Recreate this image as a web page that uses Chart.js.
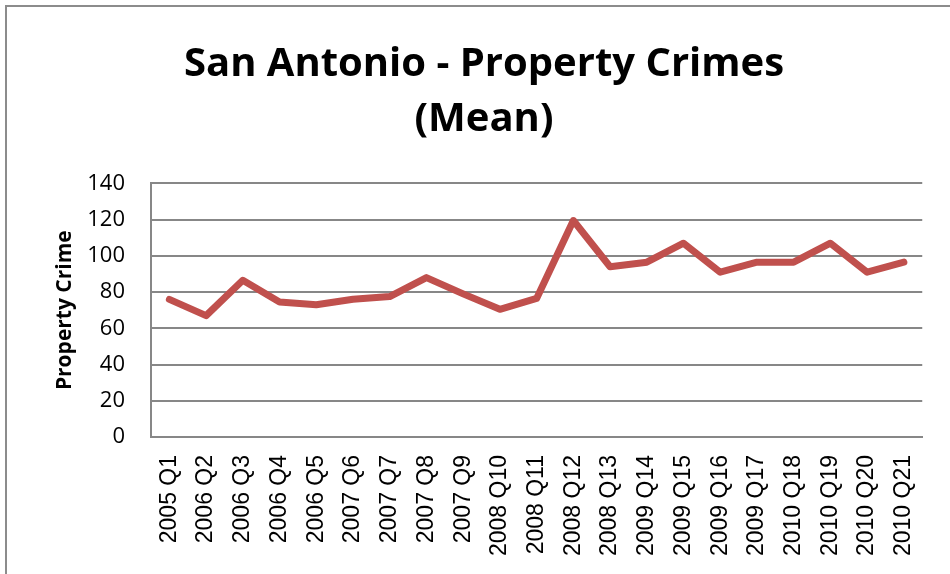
<!DOCTYPE html>
<html>
<head>
<meta charset="utf-8">
<script src="https://cdn.jsdelivr.net/npm/chart.js@4.4.0/dist/chart.umd.min.js"></script>
<style>
    body { margin: 0; background: #fff; }
    #wrap { position: relative; width: 950px; height: 574px; }
    #frame {
        position: absolute; left: 5px; top: 5px; right: 0; bottom: 0;
        border-left: 2px solid #8c8c8c; border-top: 2px solid #8c8c8c;
        pointer-events: none;
    }
</style>
</head>
<body>
<div id="wrap">
    <canvas id="crimeChart" width="950" height="574"></canvas>
    <div id="frame"></div>
</div>
<script>
// Chart data
const quarters = [
    '2005 Q1', '2006 Q2', '2006 Q3', '2006 Q4', '2006 Q5', '2007 Q6', '2007 Q7',
    '2007 Q8', '2007 Q9', '2008 Q10', '2008 Q11', '2008 Q12', '2008 Q13', '2009 Q14',
    '2009 Q15', '2009 Q16', '2009 Q17', '2010 Q18', '2010 Q19', '2010 Q20', '2010 Q21'
];
const meanCrimes = [
    76, 67, 86.5, 74.5, 73, 76, 77.5,
    88, 79, 70.5, 76.5, 119.5, 94, 96.5,
    107, 91, 96.5, 96.5, 107, 91, 96.5
];
const titleLines = ['San Antonio - Property Crimes', '(Mean)'];
const yTitle = 'Property Crime';

const gridColor = '#878787';
const ctx = document.getElementById('crimeChart').getContext('2d');

const crimeChart = new Chart(ctx, {
    type: 'line',
    data: {
        labels: quarters,
        datasets: [{
            data: meanCrimes,
            borderColor: '#C0504D',
            borderWidth: 7,
            borderCapStyle: 'round',
            borderJoinStyle: 'round',
            pointRadius: 0,
            tension: 0,
            fill: false
        }]
    },
    options: {
        responsive: false,
        animation: false,
        layout: {
            // left padding only shifts the title centre; plot left stays at 151
            padding: { left: 40, right: 22, top: 0, bottom: 0 }
        },
        plugins: {
            legend: { display: false },
            tooltip: { enabled: false },
            title: {
                display: true,
                text: titleLines,
                color: '#000',
                font: { family: '"Open Sans", sans-serif', size: 40, weight: 'bold', lineHeight: 1.38 },
                padding: { top: 37, bottom: 36 }
            }
        },
        scales: {
            x: {
                offset: true,
                grid: { display: false, drawTicks: false },
                border: { display: true, color: gridColor, width: 2 },
                ticks: {
                    color: '#000',
                    autoSkip: false,
                    maxRotation: 90,
                    minRotation: 90,
                    padding: 18,
                    font: { family: '"Liberation Sans", Arial, sans-serif', size: 23 }
                },
                afterFit: (scale) => { scale.height = 137; }
            },
            y: {
                min: 0,
                max: 140,
                grid: { color: gridColor, lineWidth: 2, drawTicks: false },
                border: { display: true, color: gridColor, width: 2 },
                ticks: {
                    stepSize: 20,
                    color: '#000',
                    padding: 26,
                    font: { family: '"Open Sans", sans-serif', size: 22 }
                },
                title: {
                    display: true,
                    text: yTitle,
                    color: '#000',
                    font: { family: '"Open Sans", sans-serif', size: 21, weight: 'bold' },
                    padding: { top: 12, bottom: 0 }
                },
                afterFit: (scale) => { scale.width = 111; }
            }
        }
    }
});
</script>
</body>
</html>
